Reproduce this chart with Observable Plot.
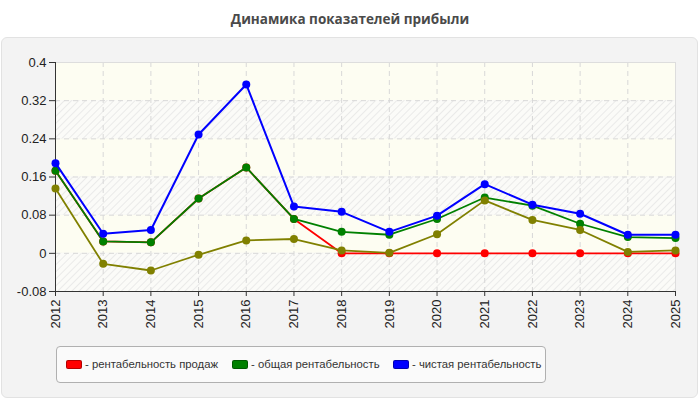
<!DOCTYPE html>
<html>
<head>
<meta charset="utf-8">
<script src="https://cdn.jsdelivr.net/npm/d3@7"></script>
<script src="https://cdn.jsdelivr.net/npm/@observablehq/plot@0.6"></script>
<style>
  body { margin: 0; width: 700px; height: 400px; background: #fff; position: relative; overflow: hidden; font-family: "Liberation Sans", Arial, sans-serif; }
  #title { position: absolute; left: 0; top: 10px; width: 700px; text-align: center; font-family: "Open Sans", sans-serif; font-weight: bold; font-size: 13.5px; color: #4a4a4a; }
  #panel { position: absolute; left: 1px; top: 37px; width: 695px; height: 359px; background: #f3f3f3; border: 1px solid #e2e2e2; border-radius: 6px; }
  #chart { position: absolute; left: 0; top: 37px; }
  #legend { position: absolute; left: 56px; top: 346px; width: 488px; height: 35px; background: #fafafa; border: 1px solid #b0b0b0; border-radius: 4px; font-size: 11.3px; color: #333; }
  .item { position: absolute; top: 11px; white-space: nowrap; display: flex; align-items: center; }
  .sw { display: inline-block; width: 14px; height: 7px; border-radius: 2px; margin-right: 3px; border: 1px solid rgba(0,0,0,0.3); }
</style>
</head>
<body>
<div id="title">Динамика показателей прибыли</div>
<div id="panel"></div>
<div id="chart"></div>
<div id="legend"></div>
<script>
const years = [2012, 2013, 2014, 2015, 2016, 2017, 2018, 2019, 2020, 2021, 2022, 2023, 2024, 2025];
const salesProfitability = [0.173, 0.025, 0.023, 0.115, 0.180, 0.072, 0, 0, 0, 0, 0, 0, 0, 0];
const totalProfitability = [0.173, 0.025, 0.023, 0.115, 0.180, 0.072, 0.045, 0.039, 0.072, 0.117, 0.100, 0.062, 0.034, 0.032];
const netProfitability   = [0.189, 0.041, 0.049, 0.249, 0.354, 0.098, 0.087, 0.045, 0.079, 0.145, 0.102, 0.083, 0.039, 0.039];
const unlabeledSeries    = [0.136, -0.022, -0.036, -0.003, 0.027, 0.030, 0.006, 0.001, 0.040, 0.111, 0.070, 0.049, 0.003, 0.006];
const yTicks = [-0.08, 0, 0.08, 0.16, 0.24, 0.32, 0.4];
const yTickLabels = ["-0.08", "0", "0.08", "0.16", "0.24", "0.32", "0.4"];
const seriesNames = ["- рентабельность продаж", "- общая рентабельность", "- чистая рентабельность"];
const seriesColors = ["#ff0000", "#008000", "#0000ff", "#808000"];

const seriesValues = [salesProfitability, totalProfitability, netProfitability, unlabeledSeries];
const tables = seriesValues.map(vals => years.map((y, i) => ({year: y, value: vals[i]})));

const bands = yTicks.slice(0, -1).map((t, i) => ({y1: t, y2: yTicks[i + 1], hatched: i % 2 === 0}));

const seriesMarks = [];
tables.forEach((t, k) => {
  seriesMarks.push(Plot.line(t, {x: "year", y: "value", stroke: seriesColors[k], strokeWidth: k === 2 ? 2 : 1.8}));
  seriesMarks.push(Plot.dot(t, {x: "year", y: "value", fill: seriesColors[k], r: 4}));
});

const FONT = "Liberation Sans, Arial, sans-serif";

const plot = Plot.plot({
  width: 700,
  height: 299,
  marginLeft: 55,
  marginRight: 25,
  marginTop: 25,
  marginBottom: 45,
  style: {background: "transparent", fontFamily: FONT, fontSize: "13px", color: "#222"},
  x: {domain: [years[0], years[years.length - 1]]},
  y: {domain: [yTicks[0], yTicks[yTicks.length - 1]]},
  marks: [
    Plot.rect(bands.filter(b => !b.hatched), {y1: "y1", y2: "y2", fill: "#fdfdf2"}),
    Plot.rect(bands.filter(b => b.hatched), {y1: "y1", y2: "y2", fill: "#f8f8f8", className: "hatchband"}),
    Plot.gridX(years, {stroke: "#d8d8d8", strokeOpacity: 1, strokeDasharray: "5,4"}),
    Plot.gridY(yTicks, {stroke: "#d8d8d8", strokeOpacity: 1, strokeDasharray: "5,4"}),
    Plot.frame({stroke: "#dddddd"}),
    Plot.axisY(yTicks, {tickFormat: d => yTickLabels[yTicks.indexOf(d)], tickSize: 6, tickPadding: 3, label: null, stroke: "#333", fontSize: 13, fontFamily: FONT, fill: "#222"}),
    Plot.axisX(years, {tickFormat: d => String(d), tickRotate: -90, tickSize: 5, tickPadding: 3, label: null, stroke: "#333", fontSize: 13, fontFamily: FONT, fill: "#222"}),
    Plot.ruleX([years[0]], {stroke: "#333"}),
    Plot.ruleY([yTicks[0]], {stroke: "#333"}),
    ...seriesMarks
  ]
});

const svg = d3.select(plot);
const defs = svg.insert("defs", ":first-child");
const pat = defs.append("pattern").attr("id", "hatch").attr("patternUnits", "userSpaceOnUse")
  .attr("width", 5).attr("height", 5).attr("patternTransform", "rotate(45)");
pat.append("rect").attr("width", 5).attr("height", 5).attr("fill", "#fbfbf8");
pat.append("line").attr("x1", 0).attr("y1", 0).attr("x2", 0).attr("y2", 5).attr("stroke", "#e6e6e6").attr("stroke-width", 1.6);
svg.selectAll(".hatchband rect").attr("fill", "url(#hatch)");
svg.selectAll(".hatchband").attr("fill", "url(#hatch)");

document.getElementById("chart").appendChild(plot);

const legend = document.getElementById("legend");
const lefts = [9, 175, 336];
seriesNames.forEach((name, i) => {
  const it = document.createElement("div");
  it.className = "item";
  it.style.left = lefts[i] + "px";
  it.innerHTML = `<span class="sw" style="background:${seriesColors[i]}"></span><span>${name}</span>`;
  legend.appendChild(it);
});
</script>
</body>
</html>
